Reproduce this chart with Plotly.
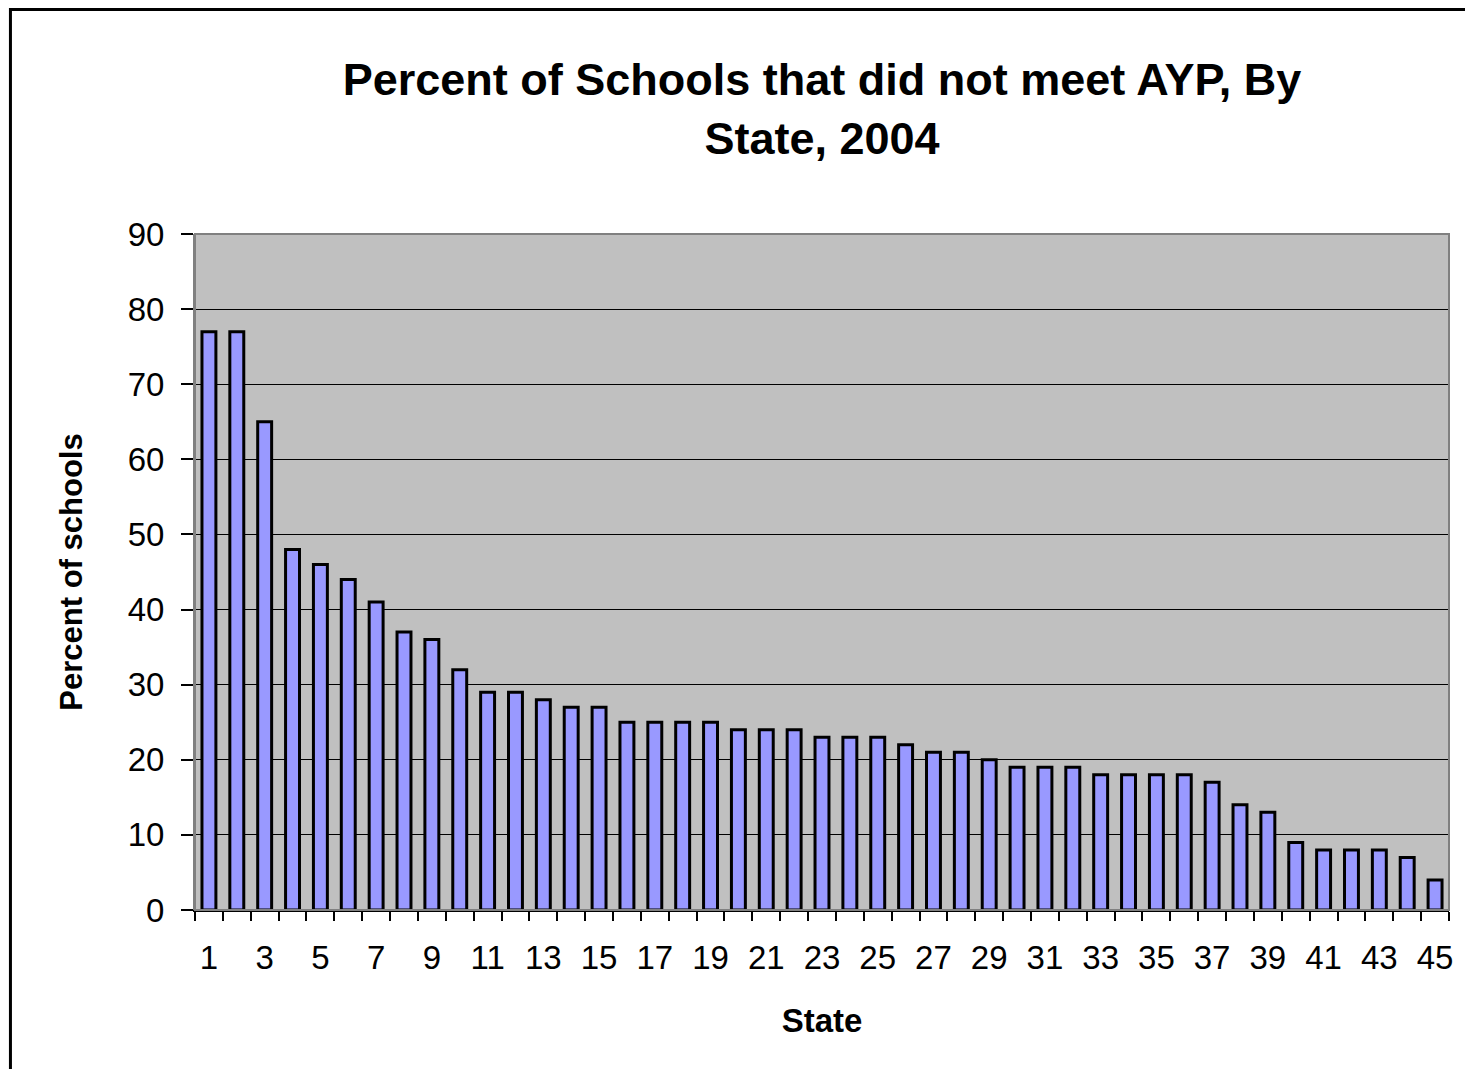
import plotly.graph_objects as go

states = list(range(1, 46))
pct_not_meet = [77, 77, 65, 48, 46, 44, 41, 37, 36, 32,
                29, 29, 28, 27, 27, 25, 25, 25, 25, 24,
                24, 24, 23, 23, 23, 22, 21, 21, 20, 19,
                19, 19, 18, 18, 18, 18, 17, 14, 13, 9,
                8, 8, 8, 7, 4]
x_tick_labels = [str(i) for i in range(1, 46, 2)]
y_ticks = list(range(0, 91, 10))

W, H = 1457, 1061
fig = go.Figure()
fig.add_trace(go.Bar(
    x=states, y=pct_not_meet,
    marker=dict(color="#9999FF", line=dict(color="black", width=3)),
    width=0.5,
))

font_family = "Liberation Sans, Arial, sans-serif"
fig.update_layout(
    width=W, height=H,
    margin=dict(l=187, r=13, t=226, b=159),
    paper_bgcolor="white",
    plot_bgcolor="#C0C0C0",
    showlegend=False,
    font=dict(family=font_family, color="black"),
    title=dict(
        text="<b>Percent of Schools that did not meet AYP, By<br>State, 2004</b>",
        xref="paper", x=0.5, xanchor="center",
        yref="container", y=1 - 87 / H, yanchor="middle",
        font=dict(size=45, family=font_family, color="black"),
    ),
    xaxis=dict(
        range=[0.5, 45.5],
        tickmode="array",
        tickvals=[int(t) for t in x_tick_labels],
        ticktext=x_tick_labels,
        ticks="",
        ticklabelstandoff=18,
        tickfont=dict(size=33),
        showgrid=False,
        zeroline=False,
        showline=True, linecolor="black", linewidth=1.5,
        mirror=False,
        minor=dict(tick0=0.5, dtick=1, ticks="outside", ticklen=9,
                   tickcolor="black", tickwidth=1.5, showgrid=False),
        title=dict(text="<b>State</b>", font=dict(size=33), standoff=34),
    ),
    yaxis=dict(
        range=[0, 90],
        tickmode="array",
        tickvals=y_ticks,
        ticks="outside", ticklen=12, tickcolor="black", tickwidth=1.5,
        ticklabelstandoff=10,
        tickfont=dict(size=33),
        showgrid=True, gridcolor="black", gridwidth=1.2,
        zeroline=False,
        showline=True, linecolor="#808080", linewidth=2,
        title=dict(text="<b>Percent of schools</b>", font=dict(size=31), standoff=36),
    ),
)

# plot-area border (gray)
fig.add_shape(type="rect", xref="paper", yref="paper", x0=0, y0=0, x1=1, y1=1,
              line=dict(color="#808080", width=2), fillcolor="rgba(0,0,0,0)", layer="above")
# outer chart border (cut at right/bottom like reference)
fig.add_shape(type="rect", xref="paper", yref="paper",
              x0=-185 / 1257, y0=-0.3, x1=1.05, y1=(226 - 1.5) / 676 + 1,
              line=dict(color="black", width=3), fillcolor="rgba(0,0,0,0)")

fig.write_html("out.html")
